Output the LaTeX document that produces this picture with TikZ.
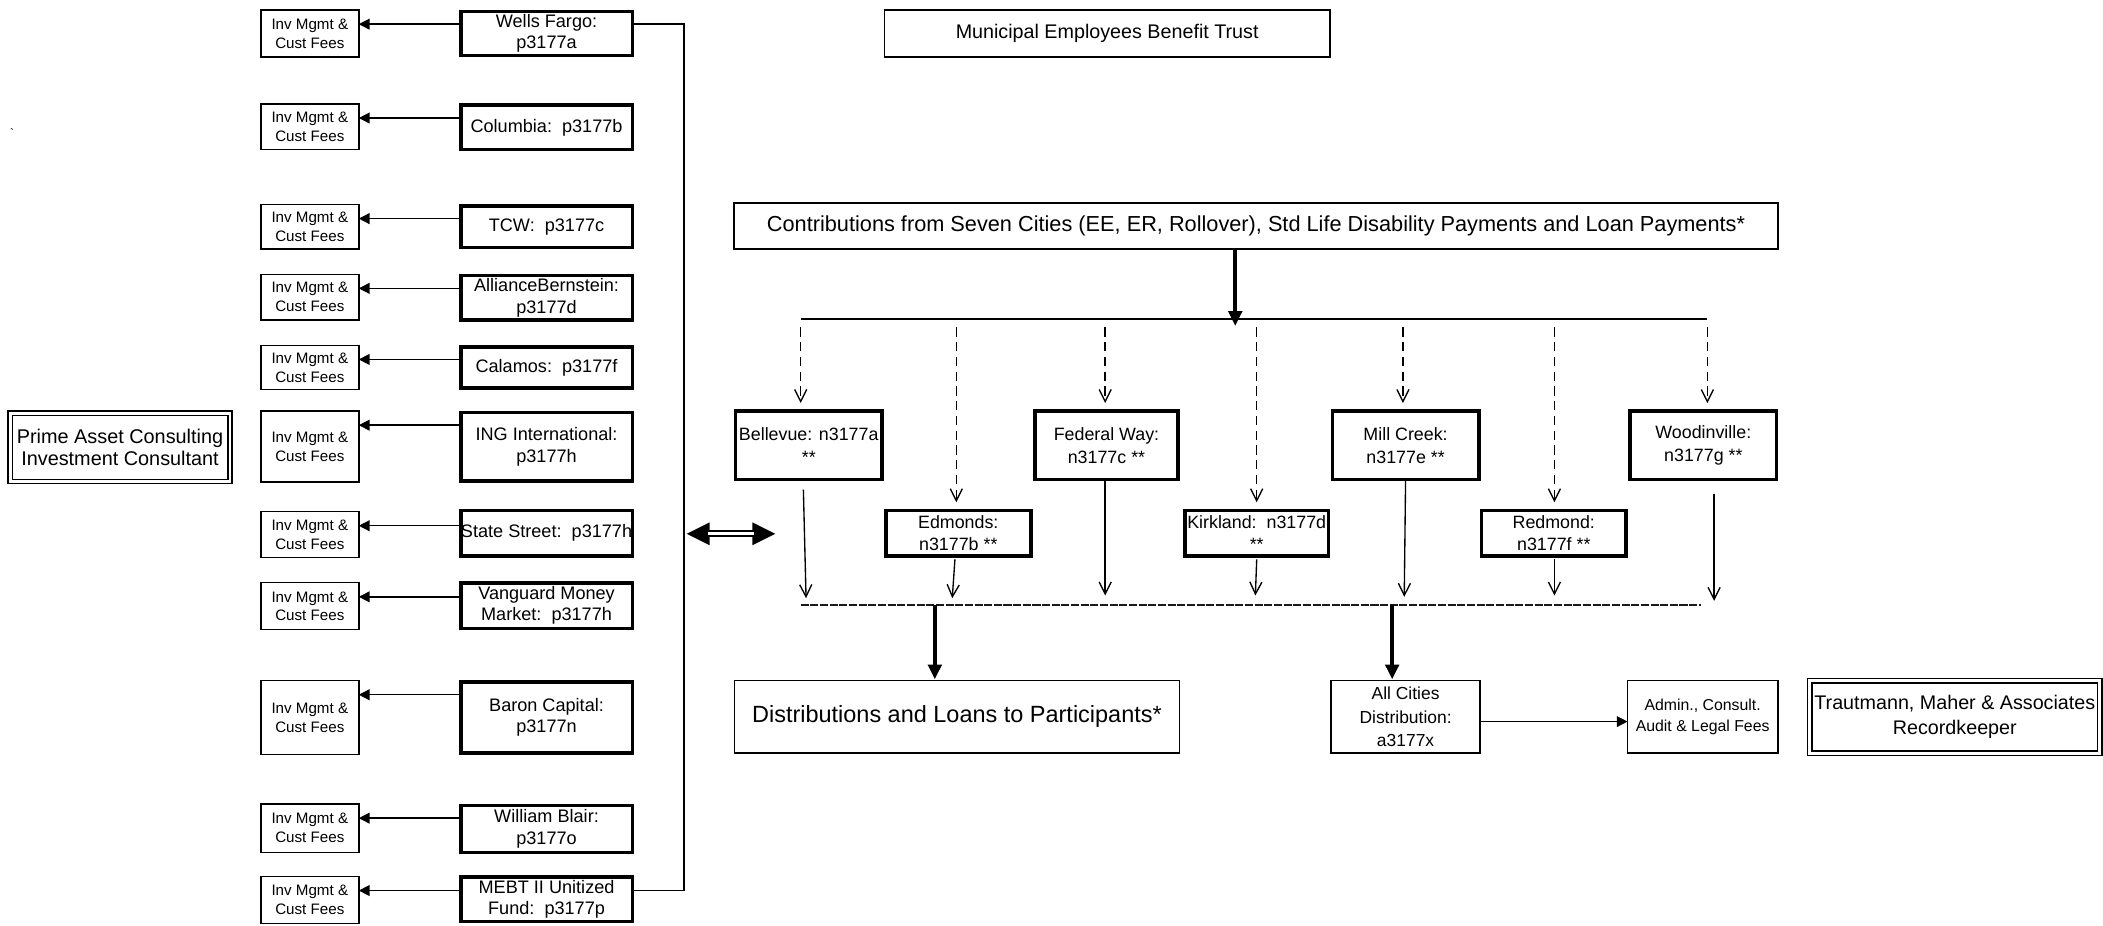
\documentclass[tikz,border=0pt]{standalone}
\usepackage{fontspec}
\setmainfont{Liberation Sans}
\usetikzlibrary{arrows.meta,calc}
\begin{document}
\begin{tikzpicture}[x=1pt,y=-1pt,
  every node/.style={inner sep=0pt, outer sep=0pt, align=center},
  inv/.style={draw, line width=1.1pt, minimum width=73pt, font=\fontsize{11.3}{14}\selectfont},
  fund/.style={draw, line width=2.7pt, minimum width=128pt, font=\fontsize{13.5}{16}\selectfont},
  city/.style={draw, line width=2.7pt, font=\fontsize{13.3}{17}\selectfont},
  thinbox/.style={draw, line width=1.1pt},
  dbl/.style={draw, double, double distance=2.2pt, line width=1.1pt},
  farr/.style={line width=1pt, -{Triangle[length=8pt,width=8pt]}},
  thickarr/.style={line width=3pt, -{Triangle[length=11pt,width=10pt]}},
  darr/.style={line width=1pt, dash pattern=on 7pt off 4pt, -{Straight Barb[length=9pt,width=9pt]}},
  sarr/.style={line width=1pt, -{Straight Barb[length=9pt,width=9pt]}},
  bline/.style={line width=2pt, black!90, dash pattern=on 6pt off 1.2pt},
]
\useasboundingbox (0,0) rectangle (1568,690);

\node[font=\fontsize{9}{9}\selectfont] (tick) at (9,99) {\textasciigrave};

% consultant
\node[dbl, minimum width=164, minimum height=51, font=\fontsize{14.8}{16.5}\selectfont] (P) at (89.5,333.5) {Prime Asset Consulting\\Investment Consultant};

% fee boxes
\node[inv, minimum height=35] (I1) at (231,25) {Inv Mgmt \&\\Cust Fees};
\node[inv, minimum height=34] (I2) at (231,94.5) {Inv Mgmt \&\\Cust Fees};
\node[inv, minimum height=33] (I3) at (231,169) {Inv Mgmt \&\\Cust Fees};
\node[inv, minimum height=34] (I4) at (231,221.5) {Inv Mgmt \&\\Cust Fees};
\node[inv, minimum height=33] (I5) at (231,274) {Inv Mgmt \&\\Cust Fees};
\node[inv, minimum height=53] (I6) at (231,333) {Inv Mgmt \&\\Cust Fees};
\node[inv, minimum height=34] (I7) at (231,398.5) {Inv Mgmt \&\\Cust Fees};
\node[inv, minimum height=35] (I8) at (231,452) {Inv Mgmt \&\\Cust Fees};
\node[inv, minimum height=55] (I9) at (231,535) {Inv Mgmt \&\\Cust Fees};
\node[inv, minimum height=36] (I10) at (231,617.5) {Inv Mgmt \&\\Cust Fees};
\node[inv, minimum height=35] (I11) at (231,671) {Inv Mgmt \&\\Cust Fees};

% fund boxes
\node[fund, minimum height=33] (F1) at (407.5,25) {Wells Fargo:\\p3177a};
\node[fund, minimum height=33] (F2) at (407.5,95) {Columbia:\ \ p3177b};
\node[fund, minimum height=31] (F3) at (407.5,169) {TCW:\ \ p3177c};
\node[fund, minimum height=33] (F4) at (407.5,222) {AllianceBernstein:\\p3177d};
\node[fund, minimum height=31] (F5) at (407.5,274) {Calamos:\ \ p3177f};
\node[fund, minimum height=51] (F6) at (407.5,333) {ING International:\\p3177h};
\node[fund, minimum height=34] (F7) at (407.5,397.5) {State Street:\ \ p3177h};
\node[fund, minimum height=34] (F8) at (407.5,451.5) {Vanguard Money\\Market:\ \ p3177h};
\node[fund, minimum height=53] (F9) at (407.5,535) {Baron Capital:\\p3177n};
\node[fund, minimum height=35] (F10) at (407.5,618) {William Blair:\\p3177o};
\node[fund, minimum height=33] (F11) at (407.5,670.5) {MEBT II Unitized\\Fund:\ \ p3177p};

\foreach \i in {1,...,11} {
  \coordinate (a\i) at ([yshift=-10.5pt]I\i.north east);
  \draw[farr] (F\i.west |- a\i) -- (a\i);
}
\draw[line width=1pt] (F1.east |- a1) -- ++(38.5,0) |- (F11.east |- a11);

% double arrow
\coordinate (dl) at (512,398);
\coordinate (dr) at (578,398);
\fill (dl) -- ++(17,-8.5) -- ++(0,17) -- cycle;
\fill (dr) -- ++(-17,-8.5) -- ++(0,17) -- cycle;
\draw[double, double distance=2pt, line width=1.6pt] ($(dl)+(16,0)$) -- ($(dr)+(-16,0)$);

% top
\node[thinbox, minimum width=332, minimum height=35, font=\fontsize{14.7}{17}\selectfont] (M) at (825.5,25) {Municipal Employees Benefit Trust};
\node[thinbox, line width=1.4pt, minimum width=778, minimum height=34, font=\fontsize{16.2}{19}\selectfont] (C) at (936.5,168.5) {Contributions from Seven Cities (EE, ER, Rollover), Std Life Disability Payments and Loan Payments*};

\coordinate (tl) at (597,238);
\coordinate (tr) at (1273,238);
\coordinate (cd) at (921,243);
\draw[line width=1.3pt] (tl) -- (tr);
\draw[thickarr] (C.south -| cd) -- (cd);

% cities
\node[city, minimum width=109, minimum height=51] (Bel) at (603,332) {Bellevue: n3177a\\**};
\node[city, minimum width=108, minimum height=34] (Edm) at (714.5,397.5) {Edmonds:\\n3177b **};
\node[city, minimum width=107, minimum height=51] (Fed) at (825,332) {Federal Way:\\n3177c **};
\node[city, minimum width=107, minimum height=34] (Kir) at (937,397.5) {Kirkland:\ \ n3177d\\**};
\node[city, minimum width=109, minimum height=51] (Mil) at (1048,332) {Mill Creek:\\n3177e **};
\node[city, minimum width=108, minimum height=34] (Red) at (1158.5,397.5) {Redmond:\\n3177f **};
\node[city, minimum width=109, minimum height=51] (Woo) at (1270,332) {Woodinville:\\n3177g **};

\draw[darr] ($(Bel.north |- tl)+(-6,6)$) -- ($(Bel.north)+(-6,-6)$);
\draw[darr] ($(Edm.north |- tl)+(-1.5,6)$) -- ($(Edm.north)+(-1.5,-6)$);
\draw[darr] ($(Fed.north |- tl)+(-1,6)$) -- ($(Fed.north)+(-1,-6)$);
\draw[darr] ($(Kir.north |- tl)+(0,6)$) -- ($(Kir.north)+(0,-6)$);
\draw[darr] ($(Mil.north |- tl)+(-2,6)$) -- ($(Mil.north)+(-2,-6)$);
\draw[darr] ($(Red.north |- tl)+(0.5,6)$) -- ($(Red.north)+(0.5,-6)$);
\draw[darr] ($(Woo.north |- tl)+(3,6)$) -- ($(Woo.north)+(3,-6)$);

% bottom collector
\coordinate (bl) at (597,451);
\coordinate (br) at (1268,451);
\draw[bline] (bl) -- (br);

\draw[sarr] ($(Bel.south)+(-4,7.5)$) -- ($(Bel.south |- bl)+(-2,-5)$);
\draw[sarr] ($(Edm.south)+(-2.5,2.5)$) -- ($(Edm.south |- bl)+(-4.5,-5)$);
\draw[sarr] ($(Fed.south)+(-1,1.5)$) -- ($(Fed.south |- bl)+(-1,-7)$);
\draw[sarr] ($(Kir.south)+(0,2.5)$) -- ($(Kir.south |- bl)+(-1,-7)$);
\draw[sarr] ($(Mil.south)+(0,0)$) -- ($(Mil.south |- bl)+(-1,-6)$);
\draw[sarr] ($(Red.south)+(0.5,2.5)$) -- ($(Red.south |- bl)+(0.5,-7)$);
\draw[sarr] ($(Woo.south)+(8,10.5)$) -- ($(Woo.south |- bl)+(8,-3)$);

% outputs
\node[thinbox, minimum width=332, minimum height=54, font=\fontsize{17.5}{20}\selectfont] (D) at (713.5,534.5) {Distributions and Loans to Participants*};
\node[thinbox, minimum width=111, minimum height=54, font=\fontsize{13}{17.5}\selectfont] (A) at (1048,534.5) {All Cities\\Distribution:\\a3177x};
\node[thinbox, minimum width=112, minimum height=54, font=\fontsize{11.8}{16}\selectfont] (Adm) at (1269.5,534.5) {Admin., Consult.\\Audit \& Legal Fees};
\node[dbl, minimum width=216, minimum height=54, font=\fontsize{14.7}{19}\selectfont] (T) at (1457.5,534.5) {Trautmann, Maher \& Associates\\Recordkeeper};

\draw[thickarr] ($(D.north |- bl)+(-16.5,0)$) -- ($(D.north)+(-16.5,-1)$);
\draw[thickarr] ($(A.north |- bl)+(-10,0)$) -- ($(A.north)+(-10,-1)$);
\draw[farr] ($(A.east)+(0,3.5)$) -- ($(Adm.west)+(0,3.5)$);
\end{tikzpicture}
\end{document}
